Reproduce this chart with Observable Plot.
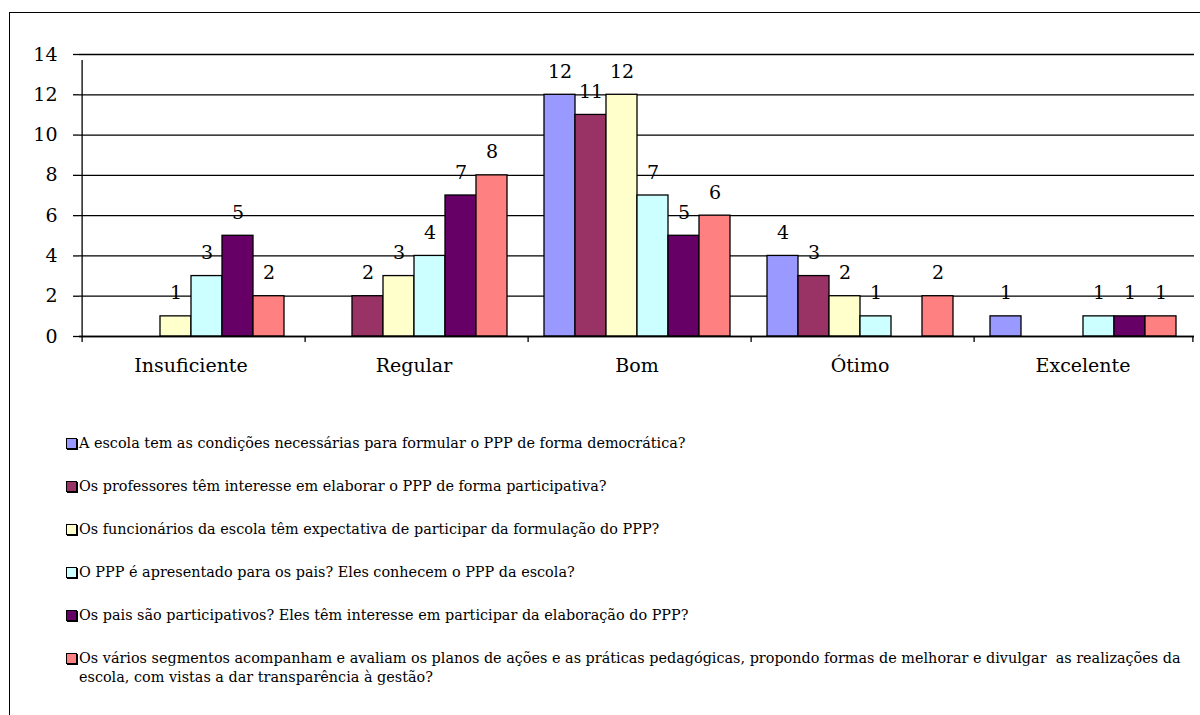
<!DOCTYPE html>
<html>
<head>
<meta charset="utf-8">
<script src="https://cdn.jsdelivr.net/npm/d3@7"></script>
<script src="https://cdn.jsdelivr.net/npm/@observablehq/plot@0.6"></script>
<style>
  html, body { margin: 0; padding: 0; background: #fff; overflow: hidden; }
  #wrap { position: relative; width: 1200px; height: 715px; overflow: hidden; }
  #frame { position: absolute; left: 9px; top: 12px; width: 1400px; height: 900px;
           border: 1.5px solid #000; box-sizing: border-box; pointer-events: none; }
  #chart { position: absolute; left: 0; top: 0; }
  .item { position: absolute; left: 66px; font-family: "DejaVu Serif", serif; font-size: 14.4px;
          color: #000; line-height: 19px; white-space: pre-line; }
  .sw { position: absolute; left: 0; top: 4px; width: 9px; height: 9px;
        border: 1px solid #000; box-shadow: 1px 1px 0 #000; }
  .lbl { position: absolute; left: 13px; top: 0; white-space: pre; }
</style>
</head>
<body>
<div id="wrap">
  <div id="chart"></div>
  <div id="legend"></div>
  <div id="frame"></div>
</div>
<script>
// Rating categories along the horizontal axis
const categories = ["Insuficiente", "Regular", "Bom", "Ótimo", "Excelente"];

// Survey questions (one bar series each)
const series = [
  "A escola tem as condições necessárias para formular o PPP de forma democrática?",
  "Os professores têm interesse em elaborar o PPP de forma participativa?",
  "Os funcionários da escola têm expectativa de participar da formulação do PPP?",
  "O PPP é apresentado para os pais? Eles conhecem o PPP da escola?",
  "Os pais são participativos? Eles têm interesse em participar da elaboração do PPP?",
  "Os vários segmentos acompanham e avaliam os planos de ações e as práticas pedagógicas, propondo formas de melhorar e divulgar  as realizações da\nescola, com vistas a dar transparência à gestão?"
];

// Answer counts per question, in category order
const q1 = [0, 0, 12, 4, 1];
const q2 = [0, 2, 11, 3, 0];
const q3 = [1, 3, 12, 2, 0];
const q4 = [3, 4, 7, 1, 1];
const q5 = [5, 7, 5, 0, 1];
const q6 = [2, 8, 6, 2, 1];
const counts = [q1, q2, q3, q4, q5, q6];

const colors = ["#9999FF", "#993366", "#FFFFCC", "#CCFFFF", "#660066", "#FF8080"];
const yTicks = [0, 2, 4, 6, 8, 10, 12, 14];

const data = [];
series.forEach((s, i) => categories.forEach((c, j) => {
  if (counts[i][j] > 0) data.push({category: c, series: s, value: counts[i][j]});
}));

const W = 1200, H = 380, mL = 78, mR = 6, mT = 54, mB = 44;
// one band step inside a category (6 bars + half-step gap each side)
const step = (W - mL - mR) / categories.length / (series.length + 1);
const axisFont = "DejaVu Serif, serif";

const plot = Plot.plot({
  width: W, height: H,
  marginLeft: mL, marginRight: mR, marginTop: mT, marginBottom: mB,
  style: {background: "none", overflow: "visible", fontFamily: axisFont},
  fx: {domain: categories, padding: 0, axis: null, label: null},
  x: {domain: series, paddingInner: 0, paddingOuter: 0.5, axis: null, label: null},
  y: {domain: [0, 14], axis: null, label: null},
  color: {domain: series, range: colors},
  marks: [
    Plot.gridY(yTicks, {stroke: "#000", strokeOpacity: 1, strokeWidth: 1.3}),
    Plot.axisY(yTicks, {tickSize: 6, tickPadding: 16, fontSize: 19, stroke: "#000", strokeWidth: 1.3,
                        tickFormat: d => d, label: null}),
    Plot.axisFx({anchor: "bottom", tickSize: 0, tickPadding: 22, fontSize: 19, label: null}),
    Plot.barY(data, {fx: "category", x: "series", y: "value", fill: "series",
                     stroke: "#000", strokeWidth: 1.3}),
    // baseline
    Plot.ruleY([0], {stroke: "#000", strokeWidth: 1.3}),
    // value axis line
    Plot.ruleX([categories[0]], {fx: d => d, x: () => series[0], dx: -step, y1: 0, y2: 14,
                                 insetBottom: -6, stroke: "#000", strokeWidth: 1.3}),
    // category separator ticks
    Plot.ruleX(categories, {fx: d => d, x: () => series[0], dx: -step, y1: 0, y2: 0,
                            insetBottom: -6, stroke: "#000", strokeWidth: 1.3}),
    Plot.ruleX([categories[categories.length - 1]], {fx: d => d, x: () => series[series.length - 1], dx: step,
                            y1: 0, y2: 0, insetBottom: -6, stroke: "#000", strokeWidth: 1.3}),
    Plot.text(data, {fx: "category", x: "series", y: "value", text: d => String(d.value),
                     dy: -23, lineAnchor: "middle", fontSize: 19, fill: "#000"})
  ]
});
document.getElementById("chart").appendChild(plot);

// legend, one row per question
const legend = document.getElementById("legend");
series.forEach((s, i) => {
  const row = document.createElement("div");
  row.className = "item";
  row.style.top = (434 + 43 * i) + "px";
  const sw = document.createElement("div");
  sw.className = "sw";
  sw.style.background = colors[i];
  const lb = document.createElement("div");
  lb.className = "lbl";
  lb.textContent = s;
  row.appendChild(sw);
  row.appendChild(lb);
  legend.appendChild(row);
});
</script>
</body>
</html>
